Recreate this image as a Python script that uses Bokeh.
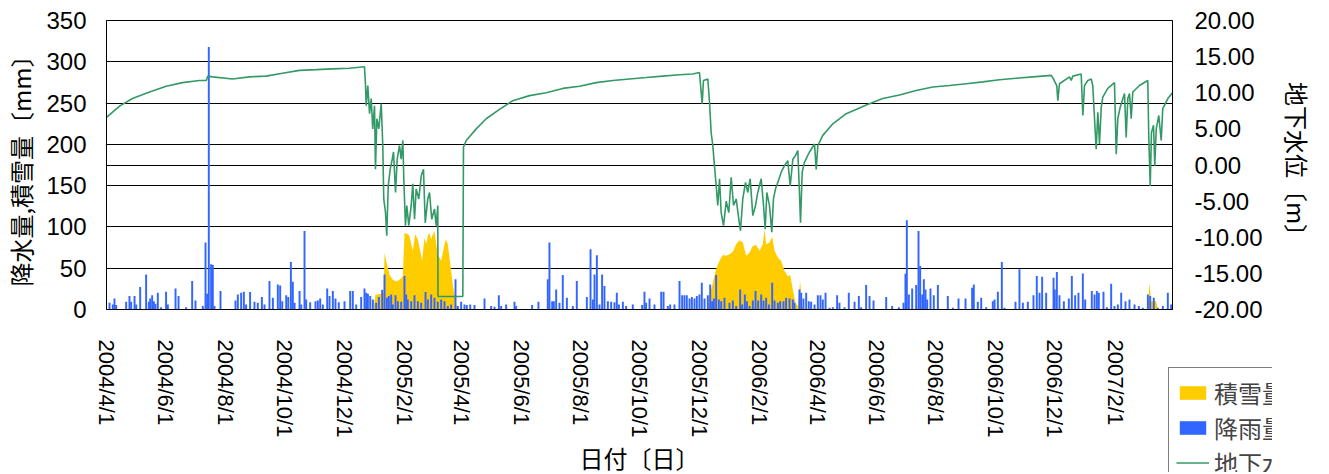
import pandas as pd
from bokeh.plotting import figure
from bokeh.layouts import column
from bokeh.models import (Range1d, LinearAxis, FixedTicker, NumeralTickFormatter,
                          Legend, LegendItem)
from bokeh.embed import file_html
from bokeh.resources import INLINE

# ---------------- data (x = days since 2004/4/1) ----------------
START = pd.Timestamp("2004-04-01")
X_END = 1095  # 2007/3/31

tick_labels = ["2004/4/1", "2004/6/1", "2004/8/1", "2004/10/1", "2004/12/1",
               "2005/2/1", "2005/4/1", "2005/6/1", "2005/8/1", "2005/10/1",
               "2005/12/1", "2006/2/1", "2006/4/1", "2006/6/1", "2006/8/1",
               "2006/10/1", "2006/12/1", "2007/2/1"]

# daily rainfall (mm)
rain_day = [3.1, 6.5, 8.2, 9.9, 20.2, 23.6, 25.3, 28.8, 30.5, 34.6, 40.7, 43.5, 44.9, 46.9,
            48.6, 50.3, 52.7, 56.1, 61.2, 63.0, 70.9, 74.0, 81.8, 88.0, 91.4, 98.9, 101.7,
            103.4, 105.1, 107.5, 109.2, 110.9, 117.1, 132.5, 134.9, 138.3, 141.1, 143.4,
            147.5, 152.0, 155.4, 159.6, 162.3, 167.4, 170.9, 176.0, 178.4, 180.5, 184.6,
            186.7, 189.4, 191.4, 193.2, 198.3, 200.0, 203.4, 205.1, 209.2, 214.7, 217.1,
            219.5, 222.2, 226.7, 229.1, 232.5, 235.2, 238.6, 244.5, 250.3, 253.0, 256.5,
            261.6, 265.0, 266.7, 268.5, 270.9, 273.6, 277.0, 279.8, 283.2, 285.6, 288.0,
            290.0, 292.4, 294.1, 296.9, 299.3, 302.7, 306.1, 307.8, 309.5, 313.0, 316.4,
            319.8, 323.2, 327.7, 330.1, 333.5, 336.9, 340.3, 343.8, 347.2, 350.6, 354.0,
            358.5, 360.9,
            364.3, 367.7, 370.1, 373.6, 378.0, 388.3, 395.1, 398.6, 403.0, 405.4, 410.5,
            419.1, 420.8, 437.2, 443.7, 453.3, 455.0, 457.8, 459.5, 461.9, 465.3, 468.7,
            472.9, 479.0, 483.1, 493.4, 497.2, 499.6, 501.3, 503.7, 506.4, 509.1, 511.5,
            515.0, 518.4, 521.8, 524.2, 526.3, 530.4, 533.8, 540.6, 550.2, 552.6, 554.3,
            557.8, 562.9, 569.8, 572.2, 576.6, 579.0, 583.4, 588.6, 591.3, 593.7, 596.1,
            598.9, 601.3, 604.0, 606.4, 609.1, 611.5, 614.3, 617.7, 620.1, 622.1, 623.9,
            626.2, 629.0, 631.4, 634.8, 639.9, 643.4, 646.8, 650.9, 653.0, 655.7, 657.8,
            660.5, 663.9, 666.7, 669.4, 672.5, 674.9, 677.6, 680.4, 683.8, 686.2, 689.6,
            692.0, 695.4, 698.1, 701.6, 705.0, 706.7, 711.8, 713.6, 715.9, 718.7, 721.4,
            723.8, 727.3, 730.7,
            733.4, 735.8, 738.6, 742.7, 746.1, 750.5, 752.9, 758.1, 762.5, 768.4, 772.8,
            775.2, 780.3, 783.8, 787.9, 800.9, 807.0, 813.9, 818.7, 820.7, 822.1, 824.2,
            827.6, 831.7, 834.1, 835.8, 837.9, 839.6, 841.3, 843.0, 846.4, 849.8, 854.0,
            864.2, 869.4, 875.2, 882.4, 889.2, 890.9, 895.0, 898.5, 903.6, 910.4, 912.2,
            915.6, 919.7, 922.4, 933.7, 937.8, 941.3, 946.4, 952.2, 955.6, 958.4, 961.1,
            965.2, 972.8, 974.1, 976.2, 978.9, 983.4, 988.5, 991.6, 995.0, 998.4, 1002.9,
            1005.3, 1012.1, 1014.9, 1017.3, 1019.3, 1024.1, 1027.6, 1032.0, 1035.4, 1038.9,
            1042.3, 1046.7, 1050.8, 1056.0, 1060.4, 1064.5, 1069.7, 1072.1, 1075.8, 1079.9,
            1085.1, 1090.2, 1093.6]
rain_mm = [8.1, 6.1, 13.4, 5.3, 9.3, 16.2, 9.3, 16.2, 6.1, 27.1, 42.5, 9.3, 13.4, 17.4,
           10.1, 6.9, 20.3, 2.8, 21.5, 6.1, 25.5, 16.2, 2.8, 34.4, 10.9, 4.1, 81.0,
           19.0, 318.0, 54.7, 53.9, 4.1, 22.3, 10.9, 18.2, 20.3, 21.5, 6.1,
           21.1, 9.3, 8.1, 15.0, 6.1, 34.4, 14.2, 30.4, 29.2, 10.1, 17.4,
           15.0, 57.5, 33.6, 8.1, 22.3, 6.1, 95.2, 12.2, 8.9, 10.1, 10.9,
           13.4, 6.1, 25.5, 16.2, 22.3, 13.4, 8.9, 10.1, 22.3, 22.3, 6.1,
           15.0, 25.5, 20.3, 19.0, 16.2, 12.2, 8.1, 15.0, 23.9, 42.5, 14.2,
           16.2, 18.2, 6.1, 17.4, 10.1, 9.3, 40.5, 18.2, 12.2, 10.1, 17.4,
           10.1, 8.1, 21.1, 12.2, 18.2, 14.2, 9.3, 12.2, 10.1, 4.1, 6.1,
           36.5, 4.1,
           9.3, 6.1, 5.3, 6.1, 5.3, 13.4, 4.1, 3.2, 17.4, 4.1, 6.1,
           9.3, 4.1, 5.3, 9.3, 36.5, 81.0, 10.1, 10.1, 24.3, 8.1, 41.7,
           14.2, 4.1, 34.4, 15.0, 72.9, 12.2, 42.5, 65.6, 6.1, 42.5, 28.4,
           10.1, 9.3, 8.9, 20.3, 6.1, 9.3, 4.1, 6.1, 5.3, 21.5, 8.1,
           13.4, 6.1, 21.5, 21.5, 4.1, 6.1, 6.1, 34.4, 17.4, 17.4, 17.4,
           13.4, 15.0, 13.4, 16.2, 18.2, 32.4, 13.4, 17.4, 30.4, 10.1, 13.4,
           41.7, 12.2, 10.1, 14.2, 8.1, 10.9, 4.1, 24.3, 6.1, 18.2, 10.1,
           4.1, 10.9, 22.3, 10.9, 18.2, 10.9, 14.2, 6.1, 32.4, 10.9, 8.1,
           10.1, 10.1, 14.2, 13.4, 12.2, 8.1, 24.3, 20.3, 13.4, 20.3, 10.1,
           9.3, 6.1, 17.4,
           17.4, 12.2, 20.3, 2.0, 2.8, 17.4, 8.1, 2.8, 20.3, 9.3, 16.2,
           2.8, 29.6, 16.2, 10.9, 15.0, 4.1, 2.8, 8.1, 43.3, 108.0, 18.2,
           25.5, 29.6, 95.2, 52.7, 18.2, 36.5, 24.3, 12.2, 25.5, 17.4, 29.6,
           16.2, 2.0, 13.4, 13.4, 26.3, 30.4, 9.3, 14.2, 2.8, 10.1, 12.2,
           21.5, 57.5, 2.0, 9.3, 48.6, 8.1, 9.3, 17.4, 40.5, 20.3, 39.7,
           20.3, 38.5, 24.3, 45.4, 17.4, 10.1, 13.4, 40.5, 17.4, 20.3, 43.7,
           12.2, 22.3, 18.2, 22.3, 20.3, 21.5, 2.8, 31.2, 4.1, 6.1,
           20.3, 10.1, 12.2, 6.1, 4.1, 2.0, 18.2, 16.2, 14.2, 2.0,
           4.1, 20.3, 6.1]

# snow depth (mm scale of the left axis)
snow_day = [274.0, 276.3, 277.0, 284.5, 285.6, 288.0, 290.7, 294.1, 297.6, 301.0, 304.4,
            306.1, 309.5, 311.2, 313.0, 314.7, 317.1, 319.8, 322.2, 324.2, 326.6, 328.4,
            330.1, 331.8, 333.5, 335.2, 336.9, 338.7, 340.3, 343.8, 347.2, 348.9, 350.6,
            352.3, 354.0, 355.7, 357.5, 359.2, 360.9,
            617.0, 619.4, 622.8, 626.2, 629.7, 633.1, 636.5, 639.9, 643.4, 646.8, 650.2,
            653.6, 657.1, 660.5, 663.9, 667.3, 670.8, 674.2, 675.9, 677.6, 681.0, 683.8,
            686.2, 689.6, 693.0, 696.4, 699.9, 702.3, 705.0, 707.8, 710.1, 712.5, 714.6,
            717.0,
            1069.5, 1071.4, 1073.0, 1078.2, 1080.0]
snow_mm = [0, 18, 18, 20, 68, 55, 42, 36, 34, 36, 40,
           93, 91, 89, 79, 71, 91, 85, 71, 59, 87, 79,
           89, 93, 85, 91, 95, 79, 67, 59, 79, 85, 79,
           63, 47, 30, 18, 6, 0,
           0, 16, 32, 49, 59, 66, 65, 67, 70, 79, 84,
           81, 65, 69, 77, 78, 71, 79, 97, 79, 81, 88,
           71, 63, 59, 47, 40, 42, 24, 8, 4, 34, 4,
           0,
           0, 32, 10, 10, 0]

# groundwater level (m)
gw_day = [0.0, 13.4, 26.7, 44.2, 61.3, 78.1, 95.5, 102.4, 104.1, 108.9, 129.4, 146.9, 164.0,
          180.8, 198.2, 215.4, 232.1, 249.6, 265.0, 266.0, 266.8, 268.4, 270.2, 271.9, 273.5,
          275.3, 276.3, 277.7, 279.7, 282.2, 283.8, 284.8, 286.6, 287.9, 289.4, 291.4, 293.5,
          294.8, 296.9, 298.6, 301.0, 302.7, 304.4, 305.4, 307.1, 308.5, 310.5, 313.0, 314.6,
          316.4, 318.1, 320.8, 323.3, 325.6, 327.4, 330.0, 331.8, 334.1, 336.9, 338.7, 340.3,
          340.5, 366.0, 366.7, 369.5, 379.8, 390.0, 403.7, 417.3, 434.5, 451.7, 468.7, 485.9,
          503.0, 520.1, 537.2, 554.4, 571.4, 588.6, 602.2, 609.1, 611.9, 613.2, 617.7, 619.4,
          621.1, 622.8, 624.5, 626.3, 627.9, 629.7, 631.4, 633.8, 636.6, 639.2, 641.7, 644.1,
          646.8, 649.5, 651.2, 653.6, 656.4, 658.7, 661.2, 663.9, 666.7, 669.0, 672.5, 674.9,
          676.6, 678.3, 681.0, 683.4, 685.1, 687.2, 689.6, 693.1, 696.4, 699.8, 702.3, 705.0,
          707.7, 710.1, 711.8, 712.9, 714.6, 717.0, 722.1, 727.3, 729.0, 730.7, 735.8, 746.1,
          759.8, 773.5, 780.4, 797.4, 814.6, 831.7, 848.8, 865.9, 883.1, 900.1, 917.3, 934.4,
          951.5, 970.4, 972.8, 976.1, 977.2, 978.9, 989.2, 990.9, 992.6, 1001.2, 1002.9,
          1004.6, 1008.0, 1011.5, 1013.1, 1014.9, 1016.6, 1018.3, 1020.0, 1021.8, 1023.4,
          1028.5, 1035.4, 1037.2, 1038.8, 1041.3, 1045.7, 1047.4, 1049.1, 1050.8, 1052.6,
          1054.2, 1061.1, 1069.6, 1070.6, 1072.1, 1073.4, 1075.5, 1076.8, 1078.3, 1080.9,
          1083.4, 1085.0, 1090.2, 1095.0]
gw_m = [6.6, 8.15, 9.2, 10.1, 10.9, 11.4, 11.7, 11.7, 12.3, 12.2, 11.9, 12.2, 12.3,
        12.7, 13.1, 13.2, 13.3, 13.4, 13.6, 11.25, 8.2, 11.0, 7.1, 9.2, 5.0,
        8.2, -0.6, 6.4, 5.0, 8.5, 2.7, -4.7, -6.6, -9.8, -2.9, -0.6, 0.8,
        1.8, -3.8, 0.8, 2.7, 0.8, 3.4, -2.0, -8.4, -5.6, -8.4, -5.6, -2.6,
        -7.5, -3.3, -4.7, -1.5, -0.6, -8.0, -4.7, -3.8, -7.5, -6.1, -8.4, -5.6,
        -18.2, -18.2, 2.45, 3.4, 5.0, 6.4, 7.7, 8.9, 9.6, 10.0, 10.6, 10.9,
        11.4, 11.7, 11.9, 12.1, 12.3, 12.5, 12.6, 12.8, 8.5, 11.7, 11.9, 8.7,
        4.5, 2.7, -0.1, -2.9, -5.6, -1.9, -6.6, -8.4, -5.0, -6.6, -1.7, -5.6,
        -4.7, -7.5, -9.1, -4.7, -2.4, -3.8, -1.9, -7.0, -5.6, -3.8, -1.9, -5.6,
        -8.9, -3.8, -5.6, -9.3, -4.7, -3.3, -2.4, -1.0, -0.1, 0.6, -2.9, 0.8,
        1.3, 2.0, -3.8, -8.0, -1.0, 0.4, 1.8, 2.9, -0.6, 2.7, 4.1, 5.7,
        7.1, 7.9, 8.3, 9.2, 9.7, 10.3, 10.8, 11.0, 11.25, 11.5, 11.8, 12.0,
        12.2, 12.4, 11.9, 11.0, 8.9, 11.25, 12.2, 11.7, 12.3, 12.6, 6.85,
        11.0, 11.7, 11.9, 11.0, 6.4, 2.2, 7.3, 2.9, 8.0, 9.4,
        10.6, 11.4, 1.5, 6.4, 8.0, 9.9, 3.8, 9.2, 9.9, 6.4,
        10.1, 11.0, 11.7, 4.1, -2.9, 4.5, 5.5, -0.1, 5.0, 6.85,
        3.4, 7.8, 9.2, 10.0]

left_ticks = [0, 50, 100, 150, 200, 250, 300, 350]
right_ticks = [-20, -15, -10, -5, 0, 5, 10, 15, 20]

SNOW_C, RAIN_C, GW_C = "#FFCC00", "#3366FF", "#339966"
LAT = "Liberation Sans"
CJK = "Noto Sans CJK JP"

# ---------------- main figure ----------------
tick_days = [int((d - START).days) for d in pd.to_datetime(tick_labels, format="%Y/%m/%d")]

p = figure(frame_width=1066, frame_height=289,
           x_range=Range1d(0, X_END), y_range=Range1d(0, 350),
           output_backend="svg", toolbar_location=None,
           min_border_left=99, min_border_right=140, min_border_top=20,
           min_border_bottom=150, background_fill_color="white")
p.border_fill_alpha = 0
p.outline_line_color = "black"
p.outline_line_width = 1
p.extra_y_ranges = {"gw": Range1d(-20, 20)}

p.varea(x=snow_day, y1=[0] * len(snow_day), y2=snow_mm, fill_color=SNOW_C)
p.vbar(x=rain_day, top=rain_mm, width=2.0, fill_color=RAIN_C, line_color=None)
p.line(x=gw_day, y=gw_m, y_range_name="gw", line_color=GW_C, line_width=1.6)

xa = p.xaxis[0]
xa.ticker = FixedTicker(ticks=tick_days)
xa.major_label_overrides = {d: s for d, s in zip(tick_days, tick_labels)}
xa.major_label_orientation = "vertical"
xa.major_label_text_font_size = "22px"
xa.major_label_standoff = 30
xa.axis_label = "日付〔日〕"
xa.axis_label_standoff = 0

ya = p.yaxis[0]
ya.ticker = FixedTicker(ticks=left_ticks)
ya.major_label_text_font_size = "24px"
ya.major_label_standoff = 20
ya.axis_label = "降水量,積雪量〔mm〕"
ya.axis_label_standoff = 5

ra = LinearAxis(y_range_name="gw", ticker=FixedTicker(ticks=right_ticks),
                formatter=NumeralTickFormatter(format="0.00"))
ra.major_label_text_font_size = "24px"
ra.major_label_standoff = 22
ra.axis_label = "地下水位〔m〕"
ra.axis_label_standoff = 14
p.add_layout(ra, "right")

for ax in (xa, ya, ra):
    ax.major_tick_line_color = None
    ax.minor_tick_line_color = None
    ax.major_tick_out = 0
    ax.major_tick_in = 0
    ax.minor_tick_out = 0
    ax.minor_tick_in = 0
    ax.axis_line_color = "black"
    ax.major_label_text_font = LAT
    ax.major_label_text_color = "black"
    ax.axis_label_text_font = CJK
    ax.axis_label_text_font_size = "24px"
    ax.axis_label_text_font_style = "normal"
    ax.axis_label_text_color = "black"

p.xgrid.visible = False
p.ygrid[0].ticker = FixedTicker(ticks=[50, 100, 150, 175, 200, 250, 300])
p.ygrid[0].grid_line_color = "black"
p.ygrid[0].grid_line_width = 1

# ---------------- legend box (small figure placed at the lower-right corner) ----------------
LW, LH, LTOP, LLEFT = 147, 105, 367, 1166
lf = figure(width=LW, height=LH, x_range=Range1d(0, 1), y_range=Range1d(0, 1),
            output_backend="svg", toolbar_location=None,
            x_axis_type=None, y_axis_type=None,
            min_border_left=0, min_border_right=0, min_border_top=0,
            min_border_bottom=0, margin=(LTOP, 0, -(LTOP + LH), LLEFT))
lf.background_fill_alpha = 0
lf.border_fill_alpha = 0
lf.outline_line_color = None
lf.grid.visible = False
# legend swatch renderers (their data lie outside this small frame)
s_r = lf.varea(x=[5, 6], y1=[5, 5], y2=[6, 6], fill_color=SNOW_C)
r_r = lf.vbar(x=[5], top=[6], bottom=5, width=1, fill_color=RAIN_C, line_color=None)
g_r = lf.line(x=[5, 6], y=[5, 6], line_color=GW_C, line_width=1.6)
legend = Legend(items=[LegendItem(label="積雪量", renderers=[s_r]),
                       LegendItem(label="降雨量", renderers=[r_r]),
                       LegendItem(label="地下水位", renderers=[g_r])],
                location="top_left", orientation="vertical",
                label_text_font=CJK, label_text_font_size="24px",
                glyph_width=33, glyph_height=17, label_standoff=5,
                spacing=0, padding=7, margin=0,
                border_line_color="black", border_line_width=1,
                background_fill_color="white", background_fill_alpha=1.0)
lf.add_layout(legend)

layout = column(lf, p, spacing=0)
open("out.html", "w").write(file_html(layout, INLINE))
